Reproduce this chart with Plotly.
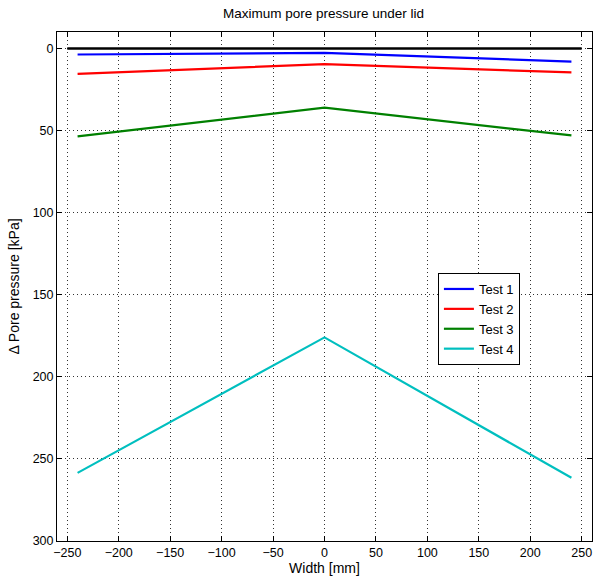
import plotly.graph_objects as go

width_mm = [-240, 0, 240]
test1 = [3.7, 2.7, 8.0]
test2 = [15.5, 9.6, 14.6]
test3 = [53.6, 36.1, 53.0]
test4 = [258.5, 176.0, 261.5]
ref_x = [-250, 250]
ref_y = [0, 0]
names = ["Test 1", "Test 2", "Test 3", "Test 4"]
colors = ["#0000ff", "#ff0000", "#008000", "#00bfbf"]
x_ticks = [-250, -200, -150, -100, -50, 0, 50, 100, 150, 200, 250]
y_ticks = [0, 50, 100, 150, 200, 250, 300]

fig = go.Figure()
fig.add_trace(go.Scatter(x=ref_x, y=ref_y, mode="lines", line=dict(color="black", width=2.5),
                         showlegend=False, hoverinfo="skip"))
for n, c, s in zip(names, colors, [test1, test2, test3, test4]):
    fig.add_trace(go.Scatter(x=width_mm, y=s, mode="lines", name=n, line=dict(color=c, width=2.2)))

font = "Liberation Sans, Arial, sans-serif"
fig.update_layout(
    width=593, height=577,
    margin=dict(l=57, r=1, t=32, b=36),
    paper_bgcolor="white", plot_bgcolor="white",
    font=dict(family=font, size=12, color="black"),
    title=dict(text="Maximum pore pressure under lid", x=0.5455, xanchor="center",
               y=1 - 13/577, yanchor="middle", font=dict(size=13.5)),
    legend=dict(x=0.712, y=0.5265, xanchor="left", yanchor="top",
                bordercolor="black", borderwidth=1, bgcolor="white",
                font=dict(size=13), tracegroupgap=0, itemwidth=30),
)
axis_common = dict(showline=True, linecolor="black", linewidth=1, mirror="allticks",
                   ticks="inside", ticklen=5, tickcolor="black",
                   showgrid=True, gridcolor="#333333", griddash="1px,3px", gridwidth=1,
                   zeroline=False, tickfont=dict(size=12.5))
fig.update_xaxes(range=[-260, 260], tickvals=x_ticks, title=dict(text="Width [mm]", standoff=2),
                 **axis_common)
fig.update_yaxes(range=[300, -10], tickvals=y_ticks, title=dict(text="Δ Pore pressure [kPa]", standoff=9),
                 **axis_common)

fig.write_html("out.html")
